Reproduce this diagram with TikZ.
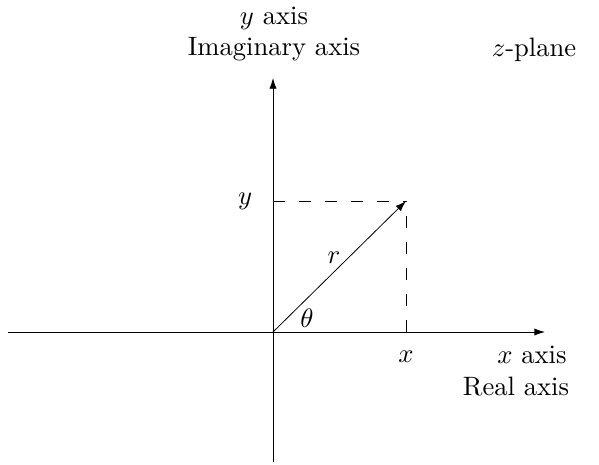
\documentclass[tikz,border=0pt]{standalone}
\usepackage{amsmath}
\usetikzlibrary{arrows.meta}
\begin{document}
\begin{tikzpicture}[x=0.376pt, y=-0.376pt, line width=0.3pt, >={Latex[length=4pt,width=2.7pt]}]
                    \useasboundingbox (0,0) rectangle (599,464);
                    \coordinate (origin) at (273,332);
                    \coordinate (xstart) at (8,332);
                    \coordinate (xend) at (545,332);
                    \coordinate (ystart) at (273,462);
                    \coordinate (yend) at (273,78);
                    \coordinate (zpoint) at (406,201);
                    \coordinate (yfoot) at (273,201);
                    \coordinate (xfoot) at (406,332);
                    \draw[->] (xstart) -- (xend);
                    \draw[->] (ystart) -- (yend);
                    \draw[->] (origin) -- (zpoint);
                    \draw[dash pattern=on 4.5pt off 5.3pt] (yfoot) -- (zpoint);
                    \draw[dash pattern=on 4.5pt off 5.3pt] (xfoot) -- (zpoint);
                    \node[align=center] (ylabel) at (274,34) {$y$ axis\\Imaginary axis};
                    \node[align=center] (xlabel) at (516,371) {\hspace*{1.2em}$x$ axis\\Real axis};
                    \node (plane) at (534,50) {$z$-plane};
                    \node (ycoord) at (245,201) {$y$};
                    \node (xcoord) at (406,357) {$x$};
                    \node (rlabel) at (334,258) {$r$};
                    \node (thetalabel) at (307,318) {$\theta$};
                \end{tikzpicture}
\end{document}
